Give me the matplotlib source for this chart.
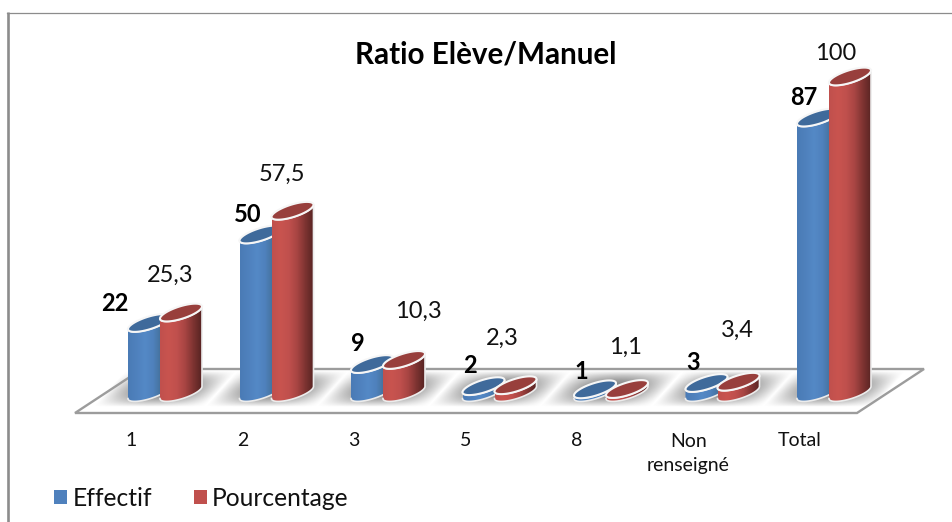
import numpy as np
import matplotlib
matplotlib.use("Agg")
import matplotlib.pyplot as plt
from matplotlib.patches import Polygon, Patch
from matplotlib.colors import LinearSegmentedColormap

categories = ["1", "2", "3", "5", "8", "Non\nrenseigné", "Total"]
effectif = [22, 50, 9, 2, 1, 3, 87]
pourcentage = [25.3, 57.5, 10.3, 2.3, 1.1, 3.4, 100]
pourcentage_labels = ["25,3", "57,5", "10,3", "2,3", "1,1", "3,4", "100"]
series_names = ["Effectif", "Pourcentage"]
title = "Ratio Elève/Manuel"

# label placement, in pixels from the top of each bar
eff_offsets = [(-34, 19), (-12.5, 19.5), (-14, 21), (-13.5, 21), (-14, 18), (-13.5, 21), (-14, 20.5)]
pct_offsets = [(-11, 37.5), (-11, 36), (14, 49), (-13.5, 47), (-2, 42), (-1.5, 51), (-14, 23)]

W, H = 952, 522
PX_X = 111.5      # pixels per category
PX_Y = 3.16       # pixels per value unit
X0, Y0 = 165, 392.5

plt.rcParams["font.family"] = ["Lato", "DejaVu Sans"]
fig = plt.figure(figsize=(W / 100, H / 100), dpi=100)
ax = fig.add_axes([0, 0, 1, 1])
ax.set_xlim(-X0 / PX_X, (W - X0) / PX_X)
ax.set_ylim(-(H - Y0) / PX_Y, Y0 / PX_Y)
ax.axis("off")


def dx(px):
    return px / PX_X


def dy(px):
    return px / PX_Y


def py(ypx):
    return (Y0 - ypx) / PX_Y


def pxx(xpx):
    return (xpx - X0) / PX_X


# frame
ax.plot([pxx(7.5), pxx(7.5)], [py(522), py(12)], color="#8c8c8c", lw=1.9, zorder=1, solid_capstyle="butt")
ax.plot([pxx(6.5), pxx(952)], [py(12.5), py(12.5)], color="#8c8c8c", lw=0.9, zorder=1)

# floor
floor = [(75, 413), (142, 369), (924, 369), (857, 413)]
floor_xy = [(pxx(a), py(b)) for a, b in floor]
ax.add_patch(Polygon(floor_xy, closed=True, fc="white", ec="none", zorder=2))
ax.add_patch(Polygon(floor_xy, closed=True, fc="none", ec="#9c9c9c", lw=1.7, zorder=4))

RAD = 21.0      # cylinder half width, px
BY = 6.5        # ellipse half height, px
SHEAR = 0.29    # rise per px
OFFSET = 16.0   # group offset, px

cmap_blue = LinearSegmentedColormap.from_list("b", ["#4a7bb5", "#4f81bd", "#5489c6", "#4f81bd", "#447099", "#345878"])
cmap_red = LinearSegmentedColormap.from_list("r", ["#c0504d", "#c9544f", "#c0504d", "#a84543", "#7d3331", "#562322"])
TOP = {"b": "#3f6a9b", "r": "#983f3c"}


def ell(cx, base, t):
    ax_px = RAD * np.cos(t)
    return cx + dx(ax_px), base + dy(BY * np.sin(t) + SHEAR * ax_px)


def cylinder(center, value, cmap, top, z):
    t_front = np.linspace(np.pi, 2 * np.pi, 60)
    bx, by = ell(center, 0.0, t_front)
    tx, ty = ell(center, value, t_front)
    xs = np.r_[bx, tx[::-1]]
    ys = np.r_[by, ty[::-1]]
    body = Polygon(np.c_[xs, ys], closed=True, fc="none", ec="none", zorder=z)
    ax.add_patch(body)
    grad = np.linspace(0, 1, 128).reshape(1, -1)
    im = ax.imshow(grad, cmap=cmap, extent=[center - dx(RAD), center + dx(RAD), -dy(14), value + dy(14)],
                   aspect="auto", zorder=z, interpolation="bilinear")
    im.set_clip_path(body)
    ax.plot(xs, ys, color="#ececec", lw=1.2, zorder=z + 0.1, solid_joinstyle="round")
    a = np.linspace(0, 2 * np.pi, 120)
    cx, cy = ell(center, value, a)
    ax.add_patch(Polygon(np.c_[cx, cy], closed=True, fc=top, ec="#f6f6f6", lw=1.5, zorder=z + 0.2))


def shadow(group):
    xmin, xmax = X0 + PX_X * group - 72, X0 + PX_X * group + 72
    ymin, ymax = 370.5, 411
    xx, yy = np.meshgrid(np.linspace(xmin, xmax, 150), np.linspace(ymin, ymax, 50))
    cx = X0 + PX_X * group
    u = (xx - cx + (yy - 389) * 0.9) / 56.0
    v = (yy - 389) / 18.0
    d = np.clip(1 - u ** 2, 0, 1) * np.clip(1 - v ** 2, 0, 1)
    rgba = np.zeros(xx.shape + (4,))
    rgba[..., :3] = 0.45
    rgba[..., 3] = 0.9 * d
    ax.imshow(rgba, extent=[pxx(xmin), pxx(xmax), py(ymax), py(ymin)], aspect="auto", zorder=3,
              interpolation="bilinear")


for i, (e, p, pl, c) in enumerate(zip(effectif, pourcentage, pourcentage_labels, categories)):
    shadow(i)
    cylinder(i - dx(OFFSET), e, cmap_blue, TOP["b"], 5 + i)
    cylinder(i + dx(OFFSET), p, cmap_red, TOP["r"], 5.5 + i)
    ax.annotate(str(e), (i - dx(OFFSET), e), xytext=(eff_offsets[i][0] * 0.72, eff_offsets[i][1] * 0.72),
                textcoords="offset points", ha="center", va="center", fontsize=17,
                fontweight="bold", color="black", zorder=30)
    ax.annotate(pl, (i + dx(OFFSET), p), xytext=(pct_offsets[i][0] * 0.72, pct_offsets[i][1] * 0.72),
                textcoords="offset points", ha="center", va="center", fontsize=17,
                color="#111111", zorder=30)
    tick_y = 453.5 if "\n" in c else 441
    ax.text(i - dx(34), py(tick_y), c, ha="center", va="center", fontsize=14, color="#111111",
            linespacing=1.45, zorder=30)

ax.set_title(title, x=486 / W, y=1 - 63 / H, va="center", fontsize=21.3, fontweight="bold", color="black")

handles = [Patch(fc="#4f81bd", label=series_names[0]), Patch(fc="#c0504d", label=series_names[1])]
ax.legend(handles=handles, loc="center left", bbox_to_anchor=(49 / W, 1 - 498 / H), ncol=2, frameon=False,
          fontsize=17.7, handlelength=0.53, handleheight=0.53, handletextpad=0.22, columnspacing=1.7,
          borderaxespad=0, borderpad=0.2, labelcolor="#111111")

ax.set_xlim(-X0 / PX_X, (W - X0) / PX_X)
ax.set_ylim(-(H - Y0) / PX_Y, Y0 / PX_Y)
fig.savefig("out.png", dpi=100, facecolor="white")
